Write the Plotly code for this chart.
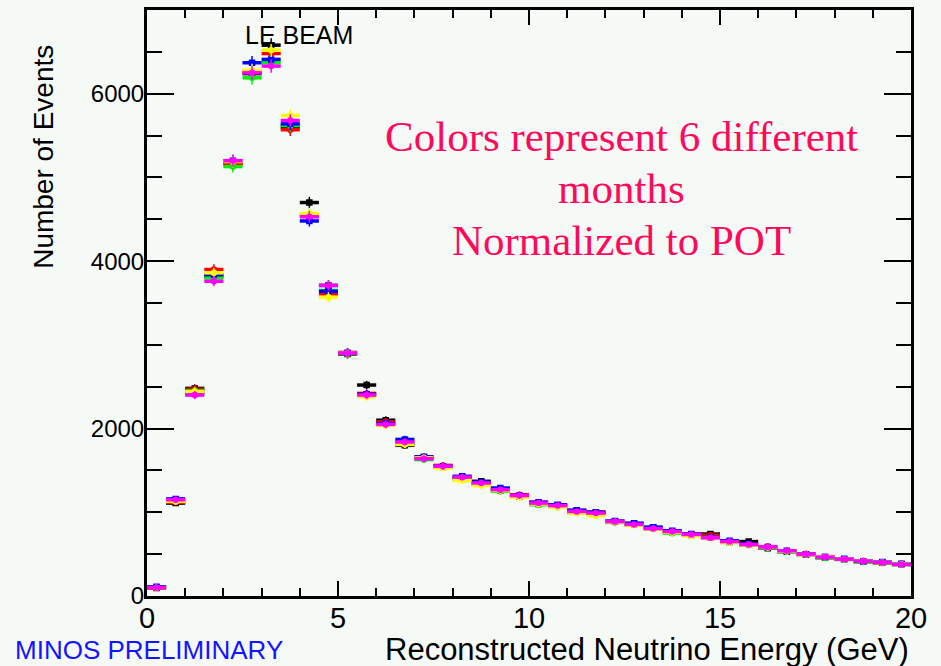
import numpy as np
import plotly.graph_objects as go

# Reconstructed energy bins (0.5 GeV wide), bin centres in GeV
energy = [0.25, 0.75, 1.25, 1.75, 2.25, 2.75, 3.25, 3.75, 4.25, 4.75,
          5.25, 5.75, 6.25, 6.75, 7.25, 7.75, 8.25, 8.75, 9.25, 9.75,
          10.25, 10.75, 11.25, 11.75, 12.25, 12.75, 13.25, 13.75, 14.25, 14.75,
          15.25, 15.75, 16.25, 16.75, 17.25, 17.75, 18.25, 18.75, 19.25, 19.75]
half_bin = 0.25

# Events per bin for each month, normalised to POT
month1 = [95, 1110, 2480, 3820, 5170, 6240, 6580, 5600, 4700, 3710,
          2890, 2520, 2100, 1800, 1660, 1540, 1400, 1370, 1260, 1190,
          1100, 1080, 1020, 1000, 890, 860, 820, 765, 730, 740,
          645, 650, 570, 530, 495, 460, 440, 410, 400, 380]
month2 = [100, 1120, 2470, 3900, 5160, 6270, 6480, 5570, 4540, 3600,
          2910, 2420, 2080, 1830, 1640, 1560, 1420, 1340, 1280, 1210,
          1120, 1070, 1020, 1000, 880, 855, 810, 765, 740, 725,
          650, 610, 590, 540, 505, 460, 440, 420, 395, 385]
month3 = [105, 1150, 2450, 3800, 5130, 6190, 6370, 5620, 4560, 3650,
          2895, 2390, 2050, 1820, 1630, 1540, 1400, 1330, 1250, 1190,
          1090, 1060, 990, 975, 880, 850, 800, 750, 725, 700,
          640, 610, 575, 530, 500, 455, 435, 405, 395, 375]
month4 = [110, 1160, 2420, 3840, 5200, 6370, 6410, 5640, 4480, 3640,
          2905, 2410, 2060, 1870, 1660, 1550, 1430, 1360, 1290, 1200,
          1120, 1090, 1025, 1000, 895, 870, 820, 780, 740, 700,
          660, 620, 585, 540, 500, 470, 445, 415, 405, 385]
month5 = [100, 1130, 2440, 3860, 5190, 6280, 6520, 5740, 4570, 3570,
          2900, 2380, 2040, 1810, 1650, 1530, 1380, 1320, 1260, 1180,
          1100, 1060, 990, 960, 885, 845, 800, 760, 720, 690,
          640, 610, 580, 535, 495, 470, 440, 415, 400, 380]
month6 = [100, 1150, 2400, 3760, 5200, 6250, 6330, 5680, 4530, 3710,
          2900, 2400, 2050, 1840, 1640, 1550, 1420, 1350, 1270, 1200,
          1110, 1080, 1010, 990, 890, 855, 805, 770, 735, 695,
          650, 615, 585, 540, 500, 465, 440, 415, 400, 375]

months = [month1, month2, month3, month4, month5, month6]
colors = ["#000000", "#ff0000", "#00ee00", "#0000ff", "#ffff00", "#ff00ff"]
symbols = ["square", "circle", "circle", "square", "circle-open", "circle-open"]

x_ticks = [0, 5, 10, 15, 20]
y_ticks = [0, 2000, 4000, 6000]

BG = "#f6faf7"
SANS = "Liberation Sans, Arial, sans-serif"
SERIF = "Liberation Serif, Times New Roman, serif"
PINK = "#ff0a5a"

fig = go.Figure()
for vals, col, sym in zip(months, colors, symbols):
    fig.add_trace(go.Scatter(
        x=energy, y=vals, mode="markers",
        marker=dict(color=col, symbol=sym, size=5,
                    line=dict(color=col, width=1.5)),
        error_x=dict(type="constant", value=half_bin, color=col,
                     thickness=3.5, width=0),
        error_y=dict(type="data", array=np.sqrt(vals), color=col,
                     thickness=1.5, width=0),
        showlegend=False, cliponaxis=False,
    ))

axis_common = dict(showline=True, linecolor="black", linewidth=3,
                   mirror="ticks", ticks="inside", tickcolor="black",
                   tickwidth=2, showgrid=False, zeroline=False)

fig.update_xaxes(range=[0, 20], tickvals=x_ticks, ticklen=15,
                 tickfont=dict(family=SANS, size=29, color="black"),
                 ticklabelstandoff=-6,
                 minor=dict(dtick=1, ticklen=8, ticks="inside",
                            tickcolor="black", tickwidth=2),
                 **axis_common)
fig.update_yaxes(range=[0, 7000], tickvals=y_ticks, ticklen=27,
                 tickfont=dict(family=SANS, size=24, color="black"),
                 ticklabelstandoff=-5,
                 minor=dict(dtick=500, ticklen=15, ticks="inside",
                            tickcolor="black", tickwidth=2),
                 **axis_common)

pw, ph = 764.0, 589.0  # plot area in px
annotations = [
    dict(text="Number of Events", textangle=-90, xref="paper", yref="paper",
         x=(44 - 147) / pw, y=(596 - 40) / ph, xanchor="center", yanchor="top",
         font=dict(family=SANS, size=28, color="black")),
    dict(text="Reconstructed Neutrino Energy (GeV)", xref="paper", yref="paper",
         x=(911 - 147) / pw, y=(596 - 650) / ph, xanchor="right", yanchor="middle",
         font=dict(family=SANS, size=31, color="black")),
    dict(text="MINOS PRELIMINARY", xref="paper", yref="paper",
         x=(13 - 147) / pw, y=(596 - 650) / ph, xanchor="left", yanchor="middle",
         font=dict(family=SANS, size=26, color="#1414ff")),
    dict(text="LE BEAM", xref="x", yref="y", x=3.98, y=6700,
         xanchor="center", yanchor="middle",
         font=dict(family=SANS, size=25, color="black")),
    dict(text="Colors represent 6 different", xref="x", yref="y", x=12.43, y=5490,
         xanchor="center", yanchor="middle",
         font=dict(family=SERIF, size=43, color=PINK)),
    dict(text="months", xref="x", yref="y", x=12.43, y=4870,
         xanchor="center", yanchor="middle",
         font=dict(family=SERIF, size=43, color=PINK)),
    dict(text="Normalized to POT", xref="x", yref="y", x=12.43, y=4250,
         xanchor="center", yanchor="middle",
         font=dict(family=SERIF, size=43, color=PINK)),
]
for a in annotations:
    a["showarrow"] = False
fig.update_layout(
    width=941, height=666,
    margin=dict(l=147, r=30, t=7, b=70),
    paper_bgcolor=BG, plot_bgcolor=BG,
    annotations=annotations,
)

fig.write_html("out.html")
